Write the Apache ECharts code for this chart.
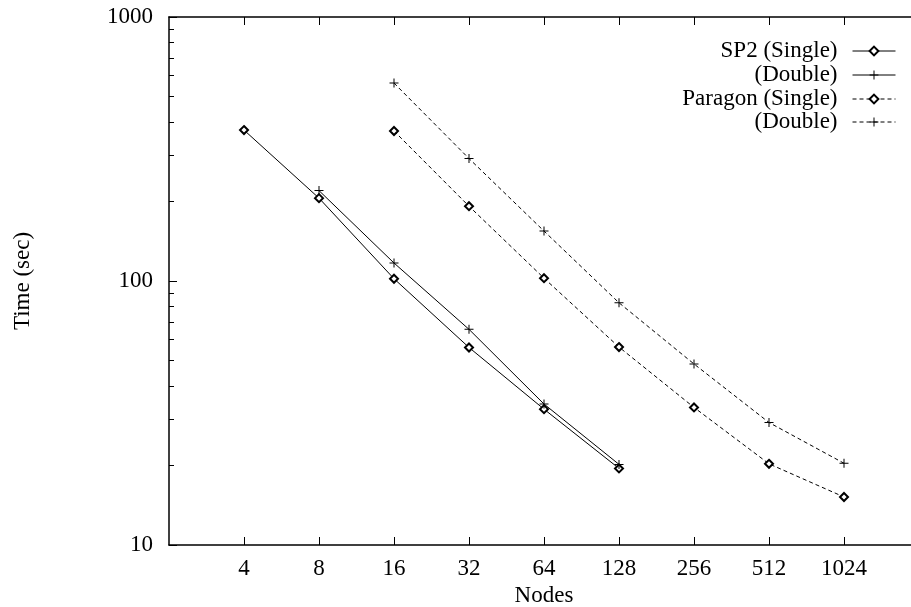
<!DOCTYPE html>
<html>
<head>
<meta charset="utf-8">
<style>
    html, body { margin: 0; padding: 0; background: #fff; }
    #chart { width: 911px; height: 607px; }
</style>
<script src="https://cdn.jsdelivr.net/npm/echarts@6/dist/echarts.min.js"></script>
</head>
<body>
<div id="chart"></div>
<script>
    // nodes on x axis (log2), times in seconds (log10)
    const nodes = [4, 8, 16, 32, 64, 128, 256, 512, 1024];
    const sp2Single = [373, 206, 102, 56, 32.7, 19.5, null, null, null];
    const sp2Double = [null, 220, 117, 65.6, 34.2, 20.2, null, null, null];
    const paragonSingle = [null, null, 370, 192, 102.5, 56.2, 33.2, 20.3, 15.2];
    const paragonDouble = [null, null, 562, 291, 154.6, 82.7, 48.5, 29.1, 20.4];
    const yMajorTicks = [10, 100, 1000];
    const yMinorTicks = [20, 30, 40, 50, 60, 70, 80, 90, 200, 300, 400, 500, 600, 700, 800, 900];
    const legendNames = ['SP2 (Single)', '(Double)', 'Paragon (Single)', '(Double)'];

    const font = 'Liberation Serif';
    const diamond = 'emptyDiamond';
    const plus = 'path://M4,0H5V4H9V5H5V9H4V5H0V4H4Z';

    function pairs(vals) {
        const out = [];
        nodes.forEach((n, i) => { if (vals[i] != null) out.push([n, vals[i]]); });
        return out;
    }

    function mkSeries(name, vals, symbol, size, dashed) {
        return {
            name: name,
            type: 'line',
            data: pairs(vals),
            symbol: symbol,
            symbolSize: size,
            showSymbol: true,
            silent: true,
            color: '#000',
            itemStyle: { color: '#000', borderColor: '#000', borderWidth: symbol === plus ? 0 : 0.8 },
            lineStyle: { color: '#000', width: 1, type: dashed ? [4, 3] : 'solid' },
            emphasis: { disabled: true }
        };
    }

    function mkLegend(name, label, top) {
        return {
            data: [name],
            right: 15,
            top: top,
            padding: 0,
            orient: 'vertical',
            align: 'right',
            itemWidth: 43,
            itemHeight: 11,
            selectedMode: false,
            formatter: () => label,
            lineStyle: { width: 1 },
            textStyle: { fontFamily: font, fontSize: 23, color: '#000', lineHeight: 24, padding: [0, 10, 0, 0] }
        };
    }

    function mkXAxis(pos) {
        const bottom = pos === 'bottom';
        return {
            type: 'log',
            logBase: 2,
            min: 2,
            max: 2048,
            position: pos,
            name: bottom ? 'Nodes' : '',
            nameLocation: 'middle',
            nameGap: 33,
            nameTextStyle: { fontFamily: font, fontSize: 23, color: '#000' },
            axisLine: { lineStyle: { color: '#000', width: 1.5 } },
            axisTick: { inside: true, length: 8, customValues: nodes, lineStyle: { color: '#000' } },
            axisLabel: { customValues: nodes, margin: 12, fontFamily: font, fontSize: 23, color: bottom ? '#000' : 'rgba(0,0,0,0)', formatter: v => String(v) },
            splitLine: { show: false }
        };
    }

    const seriesNames = ['SP2 (Single)', 'SP2 (Double)', 'Paragon (Single)', 'Paragon (Double)'];

    let myChart = echarts.init(document.getElementById('chart'));
    myChart.setOption({
        animation: false,
        backgroundColor: '#fff',
        grid: { left: 169, top: 17, bottom: 62, right: -8, outerBoundsMode: 'none', containLabel: false },
        legend: [
            mkLegend(seriesNames[0], legendNames[0], 39),
            mkLegend(seriesNames[1], legendNames[1], 63),
            mkLegend(seriesNames[2], legendNames[2], 87),
            mkLegend(seriesNames[3], legendNames[3], 110)
        ],
        xAxis: [mkXAxis('bottom'), mkXAxis('top')],
        yAxis: [
            {
                type: 'log',
                logBase: 10,
                min: 10,
                max: 1000,
                position: 'left',
                name: 'Time (sec)',
                nameLocation: 'middle',
                nameGap: 135,
                nameTextStyle: { fontFamily: font, fontSize: 23, color: '#000' },
                axisLine: { lineStyle: { color: '#000', width: 1.5 } },
                axisTick: { inside: true, length: 8, customValues: yMajorTicks, lineStyle: { color: '#000' } },
                axisLabel: { customValues: yMajorTicks, margin: 16, fontFamily: font, fontSize: 23, color: '#000', formatter: v => String(v) },
                splitLine: { show: false }
            },
            {
                // minor ticks 20..90, 200..900
                type: 'log',
                logBase: 10,
                min: 10,
                max: 1000,
                position: 'left',
                axisLine: { show: false },
                axisTick: { inside: true, length: 5, customValues: yMinorTicks, lineStyle: { color: '#000' } },
                axisLabel: { show: false },
                splitLine: { show: false }
            }
        ],
        series: [
            mkSeries(seriesNames[0], sp2Single, diamond, 8, false),
            mkSeries(seriesNames[1], sp2Double, plus, 9, false),
            mkSeries(seriesNames[2], paragonSingle, diamond, 8, true),
            mkSeries(seriesNames[3], paragonDouble, plus, 9, true)
        ]
    });
</script>
</body>
</html>
